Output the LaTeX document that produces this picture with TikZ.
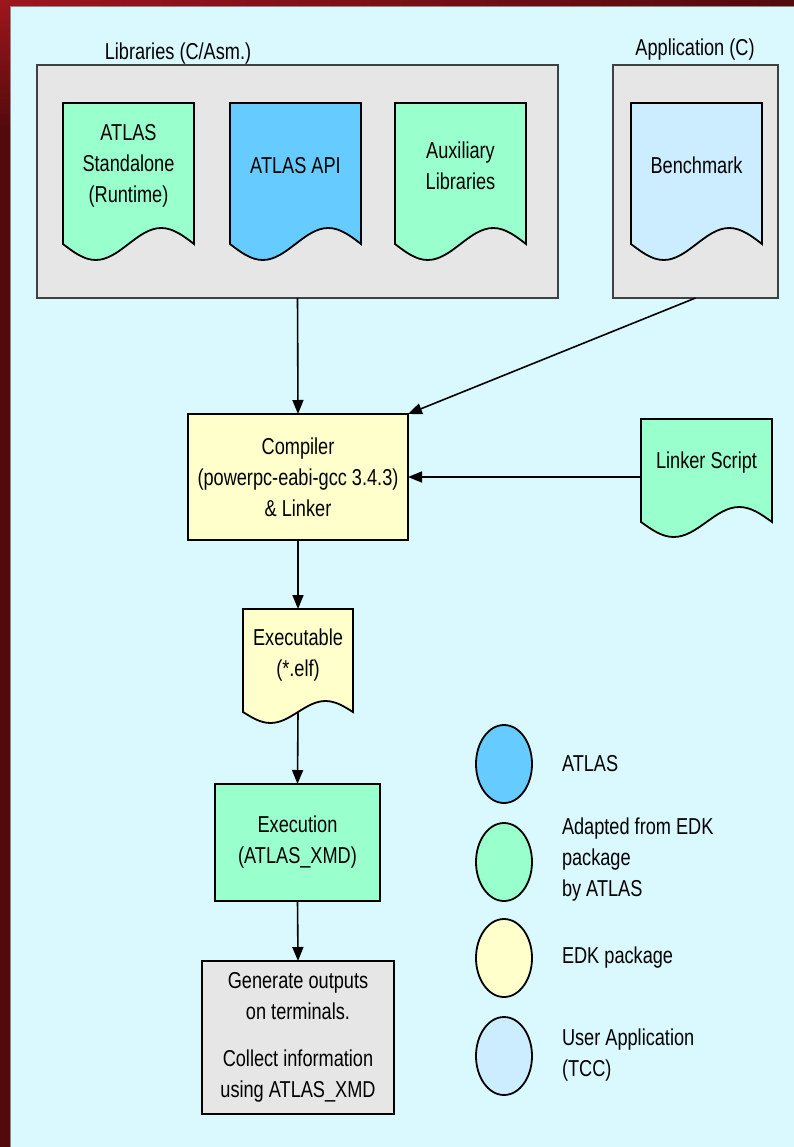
\documentclass[tikz,border=0pt]{standalone}
\usepackage{fontspec}
\setmainfont[FakeStretch=0.79]{Liberation Sans}
\usetikzlibrary{arrows.meta,shapes.geometric,calc}

\definecolor{framered}{RGB}{158,22,30}
\definecolor{framedark}{RGB}{82,10,13}
\definecolor{paneltint}{RGB}{217,249,255}
\definecolor{boxgray}{RGB}{230,230,230}
\definecolor{edkgreen}{RGB}{153,255,204}
\definecolor{atlasblue}{RGB}{102,204,255}
\definecolor{userblue}{RGB}{204,236,255}
\definecolor{edkyellow}{RGB}{255,255,204}

\tikzset{
  lbl/.style={font=\fontsize{23}{31}\selectfont, inner sep=0pt, outer sep=0pt},
  group/.style={draw=black!75, line width=1.2pt, fill=boxgray, inner sep=0pt, outer sep=0pt, anchor=north west},
  procbox/.style={lbl, draw=black, line width=1.8pt, align=center, anchor=north west},
  docline/.style={draw=black, line width=1.8pt, line join=miter},
  doctext/.style={lbl, align=center, inner sep=0pt, outer sep=0pt},
  flow/.style={line width=1.6pt, -{Triangle[length=14pt,width=11pt]}},
  legkey/.style={ellipse, draw=black, line width=1.8pt, minimum width=56pt, minimum height=78pt, inner sep=0pt},
  legtext/.style={lbl, align=left, anchor=west},
}

% Document symbol: #1 name, #2 left, #3 top, #4 width, #5 side height,
% #6 wave amplitude, #7 fill colour, #8 text
\newcommand\docshape[8]{%
  \pgfmathsetmacro\dochalfw{#4/2}%
  \pgfmathsetmacro\docquart{#4/4}%
  \pgfmathsetmacro\doctexth{#5-#6}%
  \filldraw[docline, fill=#7] (#2,#3) -- ++(#4,0) -- ++(0,#5)
    sin ++(-\docquart,-#6) cos ++(-\docquart,#6)
    sin ++(-\docquart,#6) cos ++(-\docquart,-#6) -- cycle;
  \node[doctext, minimum width=#4pt, minimum height=\doctexth pt, anchor=north]
    (#1) at (#2+\dochalfw,#3) {#8};
  \coordinate (#1-wave) at (#2+\dochalfw,#3+#5);
}

\begin{document}
\begin{tikzpicture}[x=1pt,y=-1pt]
\useasboundingbox (0,0) rectangle (794,1147);

% frame and panel
\fill[framedark] (0,0) rectangle (794,1147);
\shade[left color=framered, right color=framedark] (0,0) rectangle (794,8);
\shade[top color=framered, bottom color=framedark] (0,0) rectangle (10,130);
\fill[paneltint] (10,7) rectangle (794,1147);
\draw[black!45, line width=1pt] (10,1147) -- (10,7) -- (794,7);

% source groups
\node[group, minimum width=521pt, minimum height=233pt] (libs) at (37,65) {};
\node[group, minimum width=165pt, minimum height=233pt] (app) at (613,65) {};
\node[lbl, anchor=base] (libslbl) at (178,60) {Libraries (C/Asm.)};
\node[lbl, anchor=base] (applbl) at (695,56) {Application (C)};

\docshape{std}{63}{103}{131}{141}{16}{edkgreen}{ATLAS\\Standalone\\(Runtime)}
\docshape{api}{230}{103}{131}{141}{16}{atlasblue}{ATLAS API}
\docshape{aux}{395}{103}{131}{141}{16}{edkgreen}{Auxiliary\\Libraries}
\docshape{bench}{631}{103}{131}{141}{16}{userblue}{Benchmark}

% tool chain
\node[procbox, fill=edkyellow, minimum width=220pt, minimum height=126pt] (compiler) at (188,414)
  {Compiler\\(powerpc-eabi-gcc 3.4.3)\\\& Linker};
\docshape{linker}{641}{419}{131}{103}{15}{edkgreen}{Linker Script}
\docshape{exe}{243}{609}{110}{103}{11}{edkyellow}{Executable\\(*.elf)}
\node[procbox, fill=edkgreen, minimum width=165pt, minimum height=117pt] (exec) at (215,784)
  {Execution\\(ATLAS\_XMD)};
\node[procbox, fill=boxgray, minimum width=192pt, minimum height=153pt] (gen) at (202,961)
  {Generate outputs\\on terminals.\\[16pt]Collect information\\using ATLAS\_XMD};

% connectors
\draw[flow] (libs.south) -- (compiler.north);
\draw[flow] (app.south) -- (compiler.north east);
\draw[flow] (linker.west |- compiler.east) -- (compiler.east);
\draw[flow] (compiler.south) -- (exe.north);
\draw[flow] (exe-wave) -- (exec.north);
\draw[flow] (exec.south) -- (gen.north);

% legend
\node[legkey, fill=atlasblue] (keyatlas) at (504,764) {};
\node[legkey, fill=edkgreen] (keyadapt) at (504,862) {};
\node[legkey, fill=edkyellow] (keyedk) at (504,958) {};
\node[legkey, fill=userblue] (keyuser) at (504,1056) {};
\node[legtext] (txtatlas) at (562,764) {ATLAS};
\node[legtext] (txtadapt) at (562,860) {Adapted from EDK\\package\\by ATLAS};
\node[legtext] (txtedk) at (562,958) {EDK package};
\node[legtext] (txtuser) at (562,1055) {User Application\\(TCC)};
\end{tikzpicture}
\end{document}
